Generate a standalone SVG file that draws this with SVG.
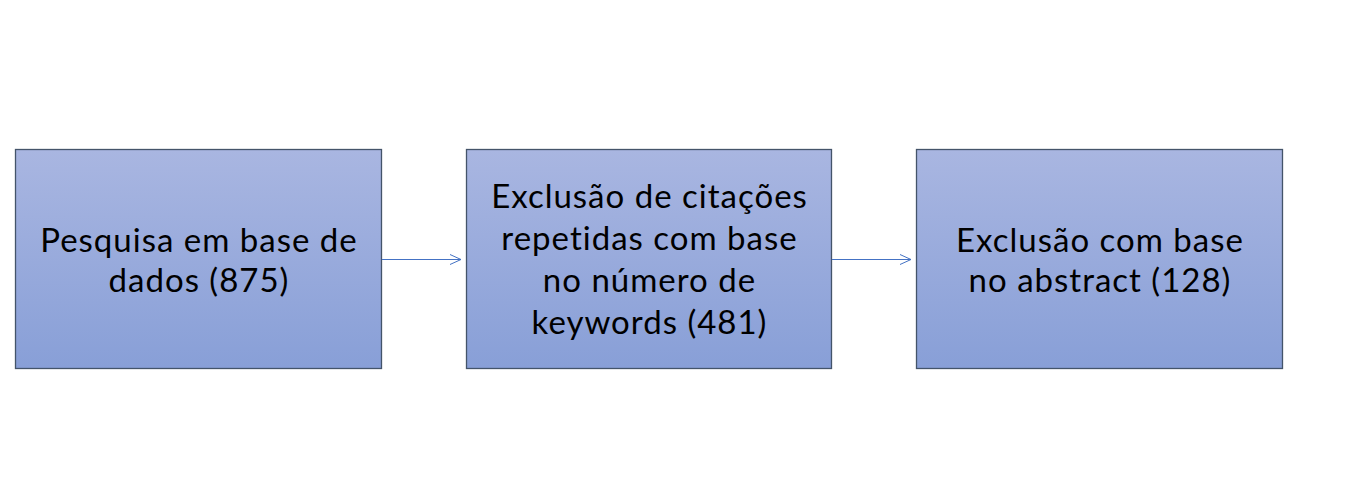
<svg xmlns="http://www.w3.org/2000/svg" width="1352" height="498" viewBox="0 0 1352 498">
<defs>
<linearGradient id="g" x1="0" y1="0" x2="0" y2="1">
<stop offset="0" stop-color="#A9B6E1"/>
<stop offset="1" stop-color="#889FD7"/>
</linearGradient>
<marker id="ah" markerWidth="14" markerHeight="12" refX="12" refY="6" orient="auto" markerUnits="userSpaceOnUse">
<path d="M1,1 L12,6 L1,11" fill="none" stroke="#4472C4" stroke-width="1"/>
</marker>
</defs>
<style>
.box{fill:url(#g);stroke:#44546A;stroke-width:1.3}
.t{font-family:Lato,"Open Sans",sans-serif;font-size:33px;letter-spacing:1px;fill:#000;text-anchor:middle}
.c{stroke:#4472C4;stroke-width:1;fill:none}
</style>
<rect width="1352" height="498" fill="#fff"/>
<g id="node1">
<rect class="box" x="15.5" y="149.5" width="366" height="219"/>
<text class="t" x="199" y="252">Pesquisa em base de</text>
<text class="t" x="199" y="292">dados (875)</text>
</g>
<g id="node2">
<rect class="box" x="466.5" y="149.5" width="365" height="219"/>
<text class="t" x="649.5" y="208">Exclusão de citações</text>
<text class="t" x="649.5" y="250">repetidas com base</text>
<text class="t" x="649.5" y="292">no número de</text>
<text class="t" x="649.5" y="334">keywords (481)</text>
</g>
<g id="node3">
<rect class="box" x="916.5" y="149.5" width="366" height="219"/>
<text class="t" x="1100" y="252">Exclusão com base</text>
<text class="t" x="1100" y="292">no abstract (128)</text>
</g>
<g id="connectors">
<line class="c" x1="382" y1="259.5" x2="461" y2="259.5" marker-end="url(#ah)"/>
<line class="c" x1="832" y1="259.5" x2="911" y2="259.5" marker-end="url(#ah)"/>
</g>
</svg>
